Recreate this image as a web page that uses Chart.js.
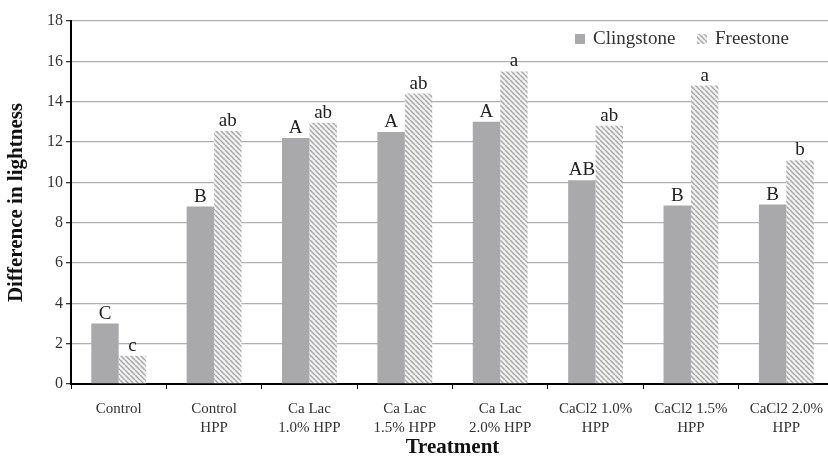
<!DOCTYPE html>
<html>
<head>
<meta charset="utf-8">
<script src="https://cdn.jsdelivr.net/npm/chart.js@4/dist/chart.umd.min.js"></script>
<style>
  html,body{margin:0;padding:0;background:#fff;overflow:hidden;}
  canvas{display:block;}
</style>
</head>
<body>
<canvas id="chartCanvas" width="834" height="458"></canvas>
<script>
// data
const treatments = ['Control', ['Control','HPP'], ['Ca Lac','1.0% HPP'], ['Ca Lac','1.5% HPP'], ['Ca Lac','2.0% HPP'],
    ['CaCl2 1.0%','HPP'], ['CaCl2 1.5%','HPP'], ['CaCl2 2.0%','HPP']];
const clingstone = [3.0, 8.8, 12.2, 12.5, 13.0, 10.1, 8.85, 8.9];
const freestone = [1.4, 12.55, 12.95, 14.4, 15.5, 12.8, 14.8, 11.1];
const clingLetters = ['C', 'B', 'A', 'A', 'A', 'AB', 'B', 'B'];
const freeLetters = ['c', 'ab', 'ab', 'ab', 'a', 'ab', 'a', 'b'];
const yTicks = [0, 2, 4, 6, 8, 10, 12, 14, 16, 18];

const serif = "'Liberation Serif', 'Times New Roman', serif";
const clingColor = '#a9a9ab';

//hatch pattern for freestone bars
function makeHatch(){
    const c = document.createElement('canvas');
    const s = 5;
    c.width = s; c.height = s;
    const g = c.getContext('2d');
    g.fillStyle = '#f2f2f2';
    g.fillRect(0, 0, s, s);
    g.strokeStyle = '#a8a8a8';
    g.lineWidth = 1.5;
    for (let k = -1; k <= 1; k++) {
        g.beginPath();
        g.moveTo(k*s, 0);
        g.lineTo(k*s + s, s);
        g.stroke();
    }
    return g.createPattern(c, 'repeat');
}
const ctx = document.getElementById('chartCanvas').getContext('2d');
const hatch = makeHatch();

// letters above the bars
const letterPlugin = {
    id: 'letters',
    afterDatasetsDraw(chart){
        const c = chart.ctx;
        c.save();
        c.font = '19px ' + serif;
        c.fillStyle = '#222';
        c.textAlign = 'center';
        c.textBaseline = 'alphabetic';
        [clingLetters, freeLetters].forEach((letters, di) => {
            chart.getDatasetMeta(di).data.forEach((bar, i) => {
                c.fillText(letters[i], bar.x, bar.y - 5);
            });
        });
        c.restore();
    }
};

// legend in the top right of the plot
const legendPlugin = {
    id: 'ownLegend',
    afterDraw(chart){
        const c = chart.ctx;
        const y = 39;
        c.save();
        c.fillStyle = clingColor;
        c.fillRect(575, y - 5, 10, 10);
        c.fillStyle = hatch;
        c.fillRect(697, y - 5, 10, 10);
        c.font = '19px ' + serif;
        c.fillStyle = '#333';
        c.textBaseline = 'middle';
        c.fillText(chart.data.datasets[0].label, 593, y);
        c.fillText(chart.data.datasets[1].label, 715, y);
        c.restore();
    }
};

const config = {
    type: 'bar',
    data: {
        labels: treatments,
        datasets: [
            {
                label: 'Clingstone',
                data: clingstone,
                backgroundColor: clingColor,
                categoryPercentage: 0.575,
                barPercentage: 1
            },
            {
                label: 'Freestone',
                data: freestone,
                backgroundColor: hatch,
                categoryPercentage: 0.575,
                barPercentage: 1
            }
        ]
    },
    options: {
        responsive: false,
        animation: false,
        layout: { padding: { top: 21, left: 0, right: 0, bottom: 0 } },
        plugins: {
            legend: { display: false },
            tooltip: { enabled: false }
        },
        scales: {
            x: {
                grid: { drawOnChartArea: false, drawTicks: true, tickLength: 5, tickColor: '#000', offset: true },
                border: { color: '#000', width: 2 },
                ticks: { color: '#333', font: { family: serif, size: 15, lineHeight: 1.3 }, padding: 10, maxRotation: 0, autoSkip: false },
                title: { display: true, text: 'Treatment', color: '#111', font: { family: serif, size: 21, weight: 'bold' }, padding: { top: 0, bottom: -2 } },
                afterFit(s){ s.height = 74; }
            },
            y: {
                min: 0,
                max: 18,
                afterBuildTicks(s){ s.ticks = yTicks.map(v => ({ value: v })); },
                grid: { color: '#b0b0b0', lineWidth: 1.3, tickLength: 5, tickColor: '#333' },
                border: { color: '#000', width: 2 },
                ticks: { color: '#333', font: { family: serif, size: 16 }, padding: 3 },
                title: { display: true, text: 'Difference in lightness', color: '#111', font: { family: serif, size: 21, weight: 'bold' }, padding: { top: 4, bottom: 0 } },
                afterFit(s){ s.width = 71; }
            }
        }
    },
    plugins: [letterPlugin, legendPlugin]
};

var myChart = new Chart(ctx, config);
</script>
</body>
</html>
